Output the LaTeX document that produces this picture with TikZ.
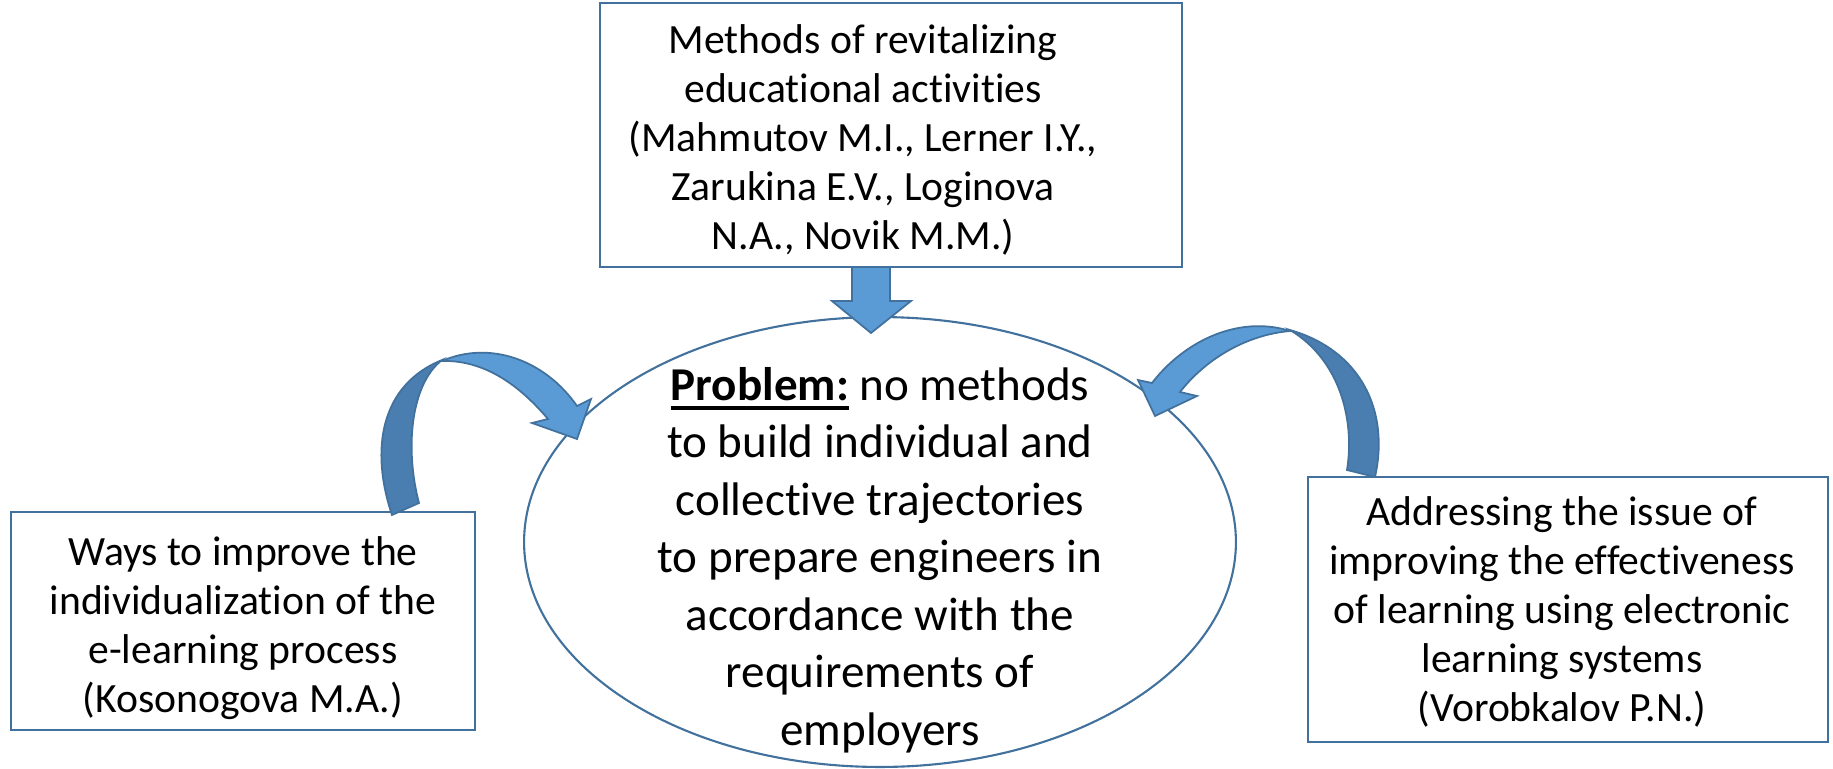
\documentclass[tikz,border=0pt]{standalone}
\usepackage{fontspec}
\setmainfont[Ligatures=NoCommon]{Carlito}
\usetikzlibrary{shapes.geometric}
\newsavebox{\ulbox}
\newcommand{\thickul}[1]{\sbox{\ulbox}{#1}\rlap{\rule[-0.2em]{\wd\ulbox}{2pt}}\usebox{\ulbox}}
\definecolor{edgeblue}{HTML}{41719C}
\definecolor{frontblue}{HTML}{5B9BD5}
\definecolor{backblue}{HTML}{4A7DB0}
\tikzset{
  frame/.style={draw=edgeblue, line width=1.1pt, rectangle, inner sep=0pt},
  boxtext/.style={align=center, inner sep=0pt, font=\fontsize{23.7pt}{28pt}\selectfont},
  probtext/.style={align=center, inner sep=0pt, font=\fontsize{26.8pt}{32.7pt}\selectfont},
  front/.style={fill=frontblue, draw=edgeblue, line width=1pt, line join=miter},
  back/.style={fill=backblue, draw=edgeblue, line width=1pt},
}

\begin{document}
\begin{tikzpicture}[x=0.02cm, y=-0.02cm]
			%%%%% START %%%%%
			\useasboundingbox (0,0) rectangle (1833,768);
			
			% the three source boxes
			\node[frame, minimum width=11.64cm, minimum height=5.28cm] (meth) at (891,135) {};
			\node[boxtext] (methtxt) at (863,140) {Methods of revitalizing\\educational activities\\(Mahmutov M.I., Lerner I.Y.,\\Zarukina E.V., Loginova\\N.A., Novik M.M.)};
			
			\node[frame, minimum width=9.28cm, minimum height=4.36cm] (ways) at (243,621) {};
			\node[boxtext] (waystxt) at (243,628) {Ways to improve the\\individualization of the\\e-learning process\\(Kosonogova M.A.)};
			
			\node[frame, minimum width=10.4cm, minimum height=5.3cm] (addr) at (1568,609.5) {};
			\node[boxtext] (addrtxt) at (1562,612) {Addressing the issue of\\improving the effectiveness\\of learning using electronic\\learning systems\\(Vorobkalov P.N.)};
			
			% the problem
			\node[draw=edgeblue, line width=1.2pt, ellipse, inner sep=0pt, minimum width=14.24cm, minimum height=9cm] (prob) at (880,542) {};
			\node[probtext] (probtxt) at (880,560) {\thickul{\textbf{Problem:}} no methods\\to build individual and\\collective trajectories\\to prepare engineers in\\accordance with the\\requirements of\\employers};
			
			% block arrow down
			\draw[front] (852,267) -- (852,301) -- (832,301) -- (871,333) -- (911,301) -- (890,301) -- (890,267) -- cycle;
			
			% curved arrow from the left box
			\draw[back] (392,515) .. controls (370,450) and (380,385) .. (442,360) .. controls (410,385) and (405,450) .. (419,503) -- cycle;
			\draw[front] (442,361) .. controls (490,340) and (545,360) .. (577,406) -- (591,399) -- (577,439) -- (532,423) -- (548,419) .. controls (515,380) and (480,360) .. (442,361) -- cycle;
			
			% curved arrow from the right box
			\draw[back] (1375,477) .. controls (1390,410) and (1360,350) .. (1290,330) .. controls (1340,360) and (1355,420) .. (1347,470) -- cycle;
			\draw[front] (1290,331) .. controls (1240,315) and (1185,340) .. (1152,383) -- (1138,380) -- (1155,416) -- (1197,396) -- (1180,392) .. controls (1205,360) and (1245,335) .. (1290,331) -- cycle;
			%%%%% END %%%%%
\end{tikzpicture}
\end{document}
